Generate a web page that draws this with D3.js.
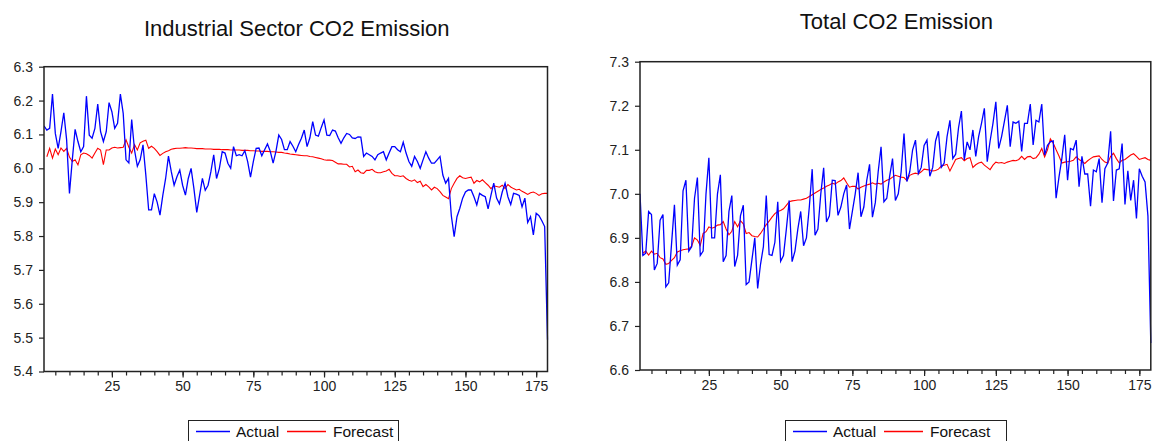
<!DOCTYPE html>
<html>
<head>
<meta charset="utf-8">
<script src="https://cdn.jsdelivr.net/npm/d3@7"></script>
<style>
  body { margin: 0; background: #fff; }
  svg { display: block; font-family: "Liberation Sans", Arial, sans-serif; }
</style>
</head>
<body>
<script>
// observations 1..179
const periods = d3.range(1, 180);
const xTickLabels = [25, 50, 75, 100, 125, 150, 175];
const xMinorTicks = d3.range(5, 180, 5);

const indYTicks = [5.4, 5.5, 5.6, 5.7, 5.8, 5.9, 6.0, 6.1, 6.2, 6.3];
const totYTicks = [6.6, 6.7, 6.8, 6.9, 7.0, 7.1, 7.2, 7.3];

const indActual = [6.125, 6.113, 6.118, 6.219, 6.103, 6.059, 6.108, 6.164, 6.084, 5.926,
  6.025, 6.115, 6.079, 6.049, 6.064, 6.213, 6.098, 6.089, 6.118, 6.19,
  6.108, 6.079, 6.108, 6.194, 6.167, 6.118, 6.133, 6.219, 6.162, 6.025,
  6.016, 6.144, 6.054, 6.006, 6.025, 6.069, 5.98, 5.877, 5.877, 5.925,
  5.90, 5.862, 5.92, 5.97, 6.036, 5.99, 5.95, 5.975, 5.995, 5.95,
  5.921, 5.97, 6.0, 5.94, 5.87, 5.92, 5.97, 5.935, 5.95, 5.99,
  6.04, 5.97, 6.0, 6.049, 6.045, 6.015, 6.0, 6.064, 6.037, 6.04,
  6.037, 6.052, 6.02, 5.974, 6.02, 6.059, 6.06, 6.037, 6.055, 6.072,
  6.05, 6.015, 6.05, 6.098, 6.085, 6.055, 6.055, 6.079, 6.065, 6.049,
  6.07, 6.089, 6.113, 6.064, 6.09, 6.138, 6.098, 6.095, 6.12, 6.143,
  6.098, 6.097, 6.113, 6.11, 6.09, 6.074, 6.09, 6.103, 6.1, 6.09,
  6.088, 6.093, 6.092, 6.035, 6.045, 6.04, 6.035, 6.025, 6.04, 6.045,
  6.049, 6.025, 6.045, 6.064, 6.064, 6.055, 6.049, 6.077, 6.045, 6.02,
  6.006, 6.035, 6.02, 6.0, 6.025, 6.049, 6.03, 6.015, 6.015, 6.025,
  6.035, 5.98, 5.956, 5.97, 5.86, 5.798, 5.857, 5.882, 5.912, 5.93,
  5.936, 5.936, 5.916, 5.892, 5.926, 5.92, 5.916, 5.88, 5.92, 5.956,
  5.912, 5.895, 5.93, 5.956, 5.916, 5.893, 5.926, 5.924, 5.92, 5.886,
  5.912, 5.84, 5.857, 5.803, 5.867, 5.86, 5.845, 5.828, 5.494];

const indForecast = [null, 6.034, 6.059, 6.03, 6.057, 6.04, 6.06, 6.05, 6.059, 6.033,
  6.02, 6.025, 6.01, 6.04, 6.045, 6.043, 6.038, 6.03, 6.045, 6.059,
  6.054, 6.011, 6.054, 6.054, 6.06, 6.062, 6.06, 6.061, 6.062, 6.084,
  6.062, 6.045, 6.07, 6.054, 6.075, 6.08, 6.083, 6.059, 6.065, 6.059,
  6.049, 6.038, 6.044, 6.049, 6.052, 6.056, 6.058, 6.059, 6.059, 6.06,
  6.061, 6.06, 6.06, 6.059, 6.058, 6.058, 6.058, 6.057, 6.057, 6.057,
  6.056, 6.056, 6.056, 6.055, 6.055, 6.055, 6.054, 6.054, 6.054, 6.054,
  6.053, 6.053, 6.053, 6.052, 6.052, 6.051, 6.051, 6.05, 6.05, 6.05,
  6.049, 6.049, 6.048, 6.047, 6.047, 6.045, 6.044, 6.042, 6.041, 6.04,
  6.039, 6.038, 6.037, 6.037, 6.035, 6.034, 6.032, 6.03, 6.028, 6.025,
  6.024, 6.024, 6.023, 6.018, 6.013, 6.013, 6.012, 6.012, 6.004, 6.006,
  5.99, 5.995, 5.987, 5.985, 5.994, 5.994, 5.997, 5.99, 5.987, 5.987,
  5.99, 5.992, 5.997, 5.985, 5.978, 5.978, 5.976, 5.978, 5.97, 5.965,
  5.962, 5.966, 5.958, 5.962, 5.946, 5.952, 5.945, 5.936, 5.944, 5.94,
  5.931, 5.92, 5.915, 5.91, 5.94, 5.956, 5.97, 5.978, 5.972, 5.97,
  5.972, 5.974, 5.956, 5.964, 5.96, 5.966, 5.958, 5.95, 5.94, 5.948,
  5.946, 5.944, 5.95, 5.94, 5.952, 5.945, 5.94, 5.936, 5.938, 5.932,
  5.928, 5.923, 5.928, 5.93, 5.926, 5.92, 5.925, 5.926, 5.926];

const totActual = [7.0, 6.86, 6.865, 6.96, 6.953, 6.827, 6.842, 6.94, 6.953, 6.789,
  6.798, 6.887, 6.975, 6.838, 6.85, 7.007, 7.031, 6.87, 6.88, 6.99,
  7.037, 6.86, 6.87, 7.0, 7.082, 6.90, 6.90, 7.0, 7.043, 6.846,
  6.86, 6.96, 6.996, 6.835, 6.86, 6.95, 6.974, 6.794, 6.80, 6.85,
  6.9, 6.785, 6.84, 6.88, 6.996, 6.862, 6.86, 6.89, 6.982, 6.847,
  6.86, 6.92, 6.985, 6.846, 6.87, 6.92, 6.96, 6.882, 6.9, 6.97,
  7.056, 6.906, 6.92, 7.0, 7.059, 6.936, 6.95, 7.031, 7.03, 6.951,
  6.97, 7.0, 7.02, 6.92, 6.96, 7.0, 7.048, 6.948, 6.97, 7.03,
  7.067, 6.947, 6.98, 7.05, 7.107, 6.982, 6.99, 7.04, 7.08, 6.985,
  7.0, 7.05, 7.137, 7.028, 7.05, 7.1, 7.122, 7.046, 7.06, 7.11,
  7.122, 7.04, 7.06, 7.12, 7.142, 7.06, 7.07, 7.13, 7.167, 7.08,
  7.09, 7.15, 7.188, 7.077, 7.118, 7.1, 7.145, 7.085, 7.13, 7.16,
  7.194, 7.073, 7.12, 7.16, 7.209, 7.103, 7.13, 7.165, 7.201, 7.107,
  7.163, 7.16, 7.165, 7.096, 7.16, 7.16, 7.204, 7.111, 7.167, 7.163,
  7.204, 7.088, 7.11, 7.118, 7.12, 6.99, 7.038, 7.08, 7.134, 7.031,
  7.103, 7.1, 7.122, 7.016, 7.085, 7.045, 7.045, 6.972, 7.054, 7.05,
  7.08, 6.98, 7.057, 7.07, 7.142, 6.984, 7.054, 7.057, 7.114, 6.976,
  7.052, 6.985, 7.031, 6.944, 7.057, 7.04, 7.027, 6.95, 6.661];

const totForecast = [null, 6.865, 6.87, 6.861, 6.87, 6.863, 6.865, 6.855, 6.852, 6.84,
  6.842, 6.849, 6.855, 6.868, 6.871, 6.873, 6.874, 6.875, 6.881, 6.9,
  6.895, 6.883, 6.91, 6.914, 6.925, 6.922, 6.924, 6.929, 6.93, 6.937,
  6.92, 6.907, 6.915, 6.937, 6.925, 6.939, 6.932, 6.91, 6.912, 6.905,
  6.903, 6.902, 6.91, 6.92, 6.93, 6.938, 6.947, 6.955, 6.96, 6.962,
  6.966, 6.974, 6.982, 6.984, 6.985, 6.986, 6.986, 6.988, 6.99, 6.994,
  6.998, 7.002, 7.006, 7.01, 7.013, 7.017, 7.02, 7.024, 7.022, 7.027,
  7.03, 7.036, 7.025, 7.015, 7.017, 7.017, 7.011, 7.015, 7.018, 7.02,
  7.022, 7.025, 7.022, 7.024, 7.022, 7.027, 7.031, 7.033, 7.038, 7.042,
  7.04, 7.038, 7.037, 7.03, 7.042, 7.045, 7.047, 7.045, 7.05, 7.056,
  7.055, 7.054, 7.052, 7.053, 7.056, 7.063, 7.065, 7.067, 7.052, 7.065,
  7.078, 7.08, 7.082, 7.075, 7.08, 7.082, 7.06, 7.066, 7.07, 7.072,
  7.065, 7.06, 7.055, 7.065, 7.072, 7.07, 7.071, 7.069, 7.072, 7.074,
  7.076, 7.075, 7.078, 7.085, 7.078, 7.084, 7.085, 7.08, 7.082, 7.09,
  7.103, 7.084, 7.1, 7.125, 7.115, 7.1, 7.086, 7.07, 7.072, 7.073,
  7.074, 7.076, 7.084, 7.078, 7.074, 7.069, 7.075, 7.08, 7.084, 7.085,
  7.086, 7.078, 7.072, 7.07, 7.085, 7.092, 7.08, 7.07, 7.076, 7.078,
  7.083, 7.088, 7.091, 7.085, 7.078, 7.08, 7.082, 7.078, 7.076];

const W = 1152, H = 441;
const svg = d3.select("body").append("svg")
  .attr("width", W)
  .attr("height", H);

function drawPanel(cfg) {
  const x = d3.scaleLinear().domain([1, 179]).range([cfg.left, cfg.right]);
  const y = d3.scaleLinear().domain(cfg.yDomain).range([cfg.bottom, cfg.top]);
  const g = svg.append("g");

  // title
  g.append("text")
    .attr("x", (cfg.left + cfg.right) / 2 + 1)
    .attr("y", cfg.titleY)
    .attr("text-anchor", "middle")
    .attr("font-size", "22px")
    .attr("fill", "#111")
    .text(cfg.title);

  // minor x ticks
  g.append("g")
    .attr("transform", "translate(0," + cfg.bottom + ")")
    .call(d3.axisBottom(x).tickValues(xMinorTicks).tickSize(4).tickFormat(""))
    .call(a => a.select(".domain").remove());

  // labelled x ticks
  g.append("g")
    .attr("class", "axis")
    .attr("transform", "translate(0," + cfg.bottom + ")")
    .call(d3.axisBottom(x).tickValues(xTickLabels).tickSize(6).tickPadding(4))
    .call(a => a.select(".domain").remove());

  // y axis
  g.append("g")
    .attr("class", "axis")
    .attr("transform", "translate(" + cfg.left + ",0)")
    .call(d3.axisLeft(y).tickValues(cfg.yTicks).tickSize(5).tickPadding(6).tickFormat(d3.format(".1f")))
    .call(a => a.select(".domain").remove());

  g.selectAll(".tick line").attr("stroke", "#222").attr("stroke-width", 1.2);
  g.selectAll(".axis text")
    .attr("font-size", "14px")
    .attr("fill", "#222")
    .attr("font-family", "'Liberation Sans', Arial, sans-serif");

  const clipId = "clip" + cfg.left;
  g.append("clipPath").attr("id", clipId)
    .append("rect")
    .attr("x", cfg.left).attr("y", cfg.top - 2)
    .attr("width", cfg.right - cfg.left + 2)
    .attr("height", cfg.bottom - cfg.top + 4);

  const line = d3.line()
    .defined(d => d[1] != null)
    .x(d => x(d[0]))
    .y(d => y(d[1]));

  g.append("path")
    .datum(periods.map((p, i) => [p, cfg.forecast[i]]))
    .attr("clip-path", "url(#" + clipId + ")")
    .attr("fill", "none")
    .attr("stroke", "#ff0000")
    .attr("stroke-width", 1.1)
    .attr("d", line);

  g.append("path")
    .datum(periods.map((p, i) => [p, cfg.actual[i]]))
    .attr("clip-path", "url(#" + clipId + ")")
    .attr("fill", "none")
    .attr("stroke", "#0000ff")
    .attr("stroke-width", 1.3)
    .attr("d", line);

  // frame
  g.append("rect")
    .attr("x", cfg.left).attr("y", cfg.top)
    .attr("width", cfg.right - cfg.left)
    .attr("height", cfg.bottom - cfg.top)
    .attr("fill", "none")
    .attr("stroke", "#222")
    .attr("stroke-width", 1.5);

  // legend
  const lg = g.append("g").attr("transform", "translate(" + cfg.legendX + ",420)");
  lg.append("rect")
    .attr("x", 0.5).attr("y", 0.5)
    .attr("width", cfg.legendW).attr("height", 24)
    .attr("fill", "#fff")
    .attr("stroke", "#222")
    .attr("stroke-width", 1);
  lg.append("line").attr("x1", 8).attr("x2", 42).attr("y1", 11.5).attr("y2", 11.5)
    .attr("stroke", "#0000ff").attr("stroke-width", 1.5);
  lg.append("text").attr("x", 48).attr("y", 17).attr("font-size", "15.5px").attr("fill", "#111").text("Actual");
  lg.append("line").attr("x1", 99).attr("x2", 138).attr("y1", 11.5).attr("y2", 11.5)
    .attr("stroke", "#ff0000").attr("stroke-width", 1.5);
  lg.append("text").attr("x", 145).attr("y", 17).attr("font-size", "15.5px").attr("fill", "#111").text("Forecast");
}

drawPanel({
  title: "Industrial Sector CO2 Emission",
  titleY: 36,
  left: 44, right: 547.5, top: 66.7, bottom: 371.5,
  yDomain: [5.4, 6.3], yTicks: indYTicks,
  actual: indActual, forecast: indForecast,
  legendX: 188, legendW: 210
});

drawPanel({
  title: "Total CO2 Emission",
  titleY: 29,
  left: 640, right: 1150.8, top: 61.7, bottom: 370,
  yDomain: [6.6, 7.3], yTicks: totYTicks,
  actual: totActual, forecast: totForecast,
  legendX: 785, legendW: 221
});
</script>
</body>
</html>
